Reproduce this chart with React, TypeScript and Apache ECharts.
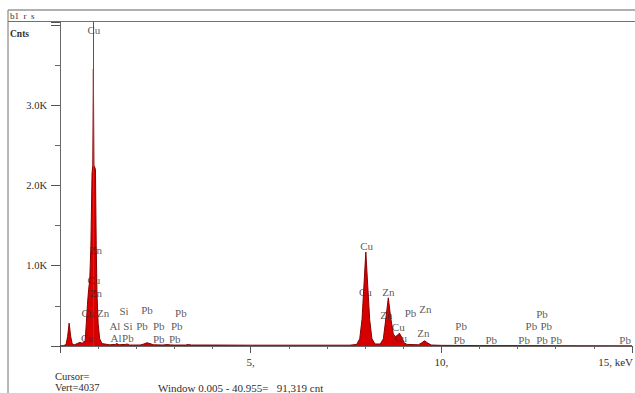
import React, { useEffect, useRef } from "react";
import * as echarts from "echarts";

// Spectrum (energy keV, counts)
const spectrumKeV = [
  0, 0.1, 0.16, 0.2, 0.24, 0.28, 0.32, 0.38, 0.45, 0.52, 0.58, 0.63,
  0.66, 0.69, 0.72, 0.75, 0.78, 0.81, 0.84, 0.86, 0.875, 0.89, 0.93, 0.95, 0.97, 1.0, 1.04, 1.1,
  1.3, 1.45, 1.49, 1.55, 1.72, 1.76, 1.82, 2.1, 2.2, 2.28, 2.36, 2.45, 2.7, 2.8, 2.9, 3.0,
  3.3, 3.36, 3.45, 4, 5, 6, 7, 7.6, 7.78,
  7.86, 7.92, 7.97, 8.02, 8.07, 8.12, 8.18, 8.26, 8.4, 8.48, 8.55, 8.61, 8.67, 8.74, 8.8, 8.9, 8.96, 9.02, 9.1,
  9.4, 9.47, 9.56, 9.65, 9.74, 10, 11, 12, 13, 14, 15,
];
const spectrumCnts = [
  0, 5, 20, 120, 285, 120, 25, 15, 30, 45, 35, 50,
  70, 280, 520, 700, 820, 1250, 2150, 2250, 3450, 2250, 2200, 1250, 650, 280, 90, 30,
  15, 20, 30, 15, 20, 25, 12, 12, 25, 40, 30, 15, 12, 18, 14, 12,
  12, 18, 12, 12, 10, 10, 10, 10, 20,
  90, 330, 750, 1170, 750, 330, 90, 25, 25, 90, 360, 600, 360, 150, 110, 160, 110, 40, 20,
  15, 35, 65, 35, 12, 8, 5, 5, 4, 3, 2,
];

// Element labels (text, keV, counts)
const labelText = [
  "Cu", "Zn", "Cu", "Zn", "Cu", "Zn", "Si", "Pb", "Pb", "Al", "Si", "Pb", "Pb", "Pb",
  "Cu", "Al", "Pb", "Pb", "Pb",
  "Cu", "Cu", "Zn", "Zn", "Pb", "Zn", "Cu", "Cu", "Zn",
  "Pb", "Pb", "Pb", "Pb", "Pb", "Pb", "Pb", "Pb", "Pb", "Pb",
];
const labelKeV = [
  0.89, 0.94, 0.89, 0.94, 0.73, 1.13, 1.68, 2.28, 3.17, 1.44, 1.78, 2.15, 2.59, 3.06,
  0.72, 1.47, 1.78, 2.59, 3.01,
  8.04, 8.01, 8.61, 8.56, 9.19, 9.58, 8.87, 8.93, 9.53,
  10.52, 10.47, 11.31, 12.17, 12.64, 13.01, 12.36, 12.75, 12.64, 14.82,
];
const labelCnts = [
  3938, 1193, 820, 658, 410, 410, 435, 447, 410, 248, 248, 248, 248, 248,
  100, 100, 100, 87, 87,
  1242, 671, 671, 385, 410, 460, 236, 100, 161,
  248, 75, 75, 75, 75, 75, 248, 248, 398, 75,
];

const cursorKeV = 0.875;
const yMax = 4035;
const yLabels: Record<number, string> = { 1000: "1.0K", 2000: "2.0K", 3000: "3.0K" };
const xLabels: Record<number, string> = { 5: "5,", 10: "10," };

const FONT = "'Liberation Serif', 'DejaVu Serif', serif";
const TXT = "#2e2e2e";

export default function App() {
  const ref = useRef<HTMLDivElement>(null);
  useEffect(() => {
    if (!ref.current) return;
    const chart = echarts.init(ref.current, undefined, { renderer: "svg" });
    const spectrum = spectrumKeV.map((k, i) => [k, spectrumCnts[i]]);
    const labels = labelKeV.map((k, i) => ({ value: [k, labelCnts[i]], name: labelText[i] }));
    chart.setOption({
      animation: false,
      backgroundColor: "#ffffff",
      grid: { left: 60, right: 1, top: 22, bottom: 47, containLabel: false },
      xAxis: {
        type: "value",
        min: 0,
        max: 15,
        interval: 5,
        axisLine: { show: true, lineStyle: { color: "#6a6a6a", width: 1 } },
        axisTick: { show: true, length: 7, lineStyle: { color: "#555" } },
        minorTick: { show: true, splitNumber: 5, length: 3, lineStyle: { color: "#666" } },
        splitLine: { show: false },
        minorSplitLine: { show: false },
        axisLabel: {
          margin: 10,
          fontFamily: FONT,
          fontSize: 11,
          color: TXT,
          formatter: (v: number) => xLabels[v] ?? "",
        },
      },
      yAxis: {
        type: "value",
        min: 0,
        max: yMax,
        interval: 1000,
        axisLine: { show: true, lineStyle: { color: "#6a6a6a", width: 1 } },
        axisTick: { show: true, length: 9, lineStyle: { color: "#555" } },
        minorTick: { show: true, splitNumber: 2, length: 5, lineStyle: { color: "#666" } },
        splitLine: { show: false },
        minorSplitLine: { show: false },
        axisLabel: {
          margin: 13,
          fontFamily: FONT,
          fontSize: 10.5,
          color: TXT,
          showMaxLabel: false,
          formatter: (v: number) => yLabels[v] ?? "",
        },
      },
      series: [
        {
          type: "line",
          data: spectrum,
          symbol: "none",
          lineStyle: { color: "#8a0000", width: 1 },
          areaStyle: { color: "#d60000", opacity: 1 },
          z: 2,
          markLine: {
            silent: true,
            symbol: "none",
            label: { show: false },
            lineStyle: { color: "#555", width: 1, type: "solid" },
            data: [{ xAxis: cursorKeV }],
            z: 3,
          },
        },
        {
          type: "scatter",
          data: labels,
          symbolSize: 2,
          itemStyle: { color: "rgba(0,0,0,0)" },
          z: 4,
          label: {
            show: true,
            position: "inside",
            formatter: (p: any) => p.name,
            fontFamily: FONT,
            fontSize: 11,
            color: TXT,
          },
          labelLayout: { hideOverlap: false },
        },
      ],
      graphic: [
        { type: "line", shape: { x1: 8, y1: 10, x2: 635, y2: 10 }, style: { stroke: "#b0b0b0", lineWidth: 2 } },
        { type: "line", shape: { x1: 8, y1: 21.5, x2: 635, y2: 21.5 }, style: { stroke: "#707070", lineWidth: 1 } },
        { type: "line", shape: { x1: 8, y1: 10, x2: 8, y2: 393 }, style: { stroke: "#707070", lineWidth: 1 } },
        { type: "text", x: 10, y: 16, style: { text: "b1  r  s", fontFamily: FONT, fontSize: 9, fill: TXT, verticalAlign: "middle" } },
        { type: "text", x: 10, y: 34, style: { text: "Cnts", fontFamily: FONT, fontSize: 9.5, fontWeight: "bold", fill: TXT, verticalAlign: "middle" } },
        { type: "text", x: 633, y: 362, style: { text: "15, keV", fontFamily: FONT, fontSize: 11, fill: TXT, align: "right", verticalAlign: "middle" } },
        { type: "text", x: 55, y: 376, style: { text: "Cursor=", fontFamily: FONT, fontSize: 10.5, fill: TXT, verticalAlign: "middle" } },
        { type: "text", x: 55, y: 387.5, style: { text: "Vert=4037", fontFamily: FONT, fontSize: 10.5, fill: TXT, verticalAlign: "middle" } },
        { type: "text", x: 158, y: 387.5, style: { text: "Window 0.005 - 40.955=   91,319 cnt", fontFamily: FONT, fontSize: 11, fill: TXT, verticalAlign: "middle" } },
      ],
    });
    return () => chart.dispose();
  }, []);
  return (
    <div
      ref={ref}
      style={{ position: "fixed", left: 0, top: 0, width: 635, height: 393, background: "#fff" }}
    />
  );
}
